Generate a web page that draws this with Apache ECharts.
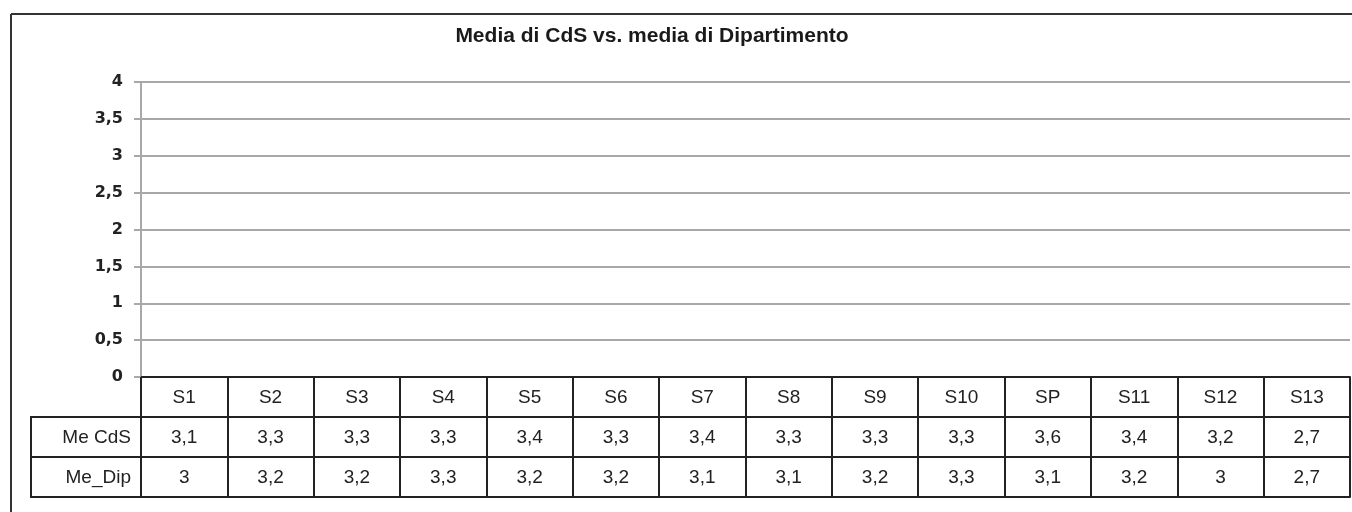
<!DOCTYPE html>
<html>
    <head>
        <meta charset="utf-8">
        <title>chart</title>
        <style media="screen">
            * {
                margin: 0px;
                padding: 0px;
            }
            html, body {
                width: 100%;
                height: 100%;
                background: #fff;
            }
            #main {
                width: 1352px;
                height: 512px;
            }
        </style>
    </head>
    <body>
        <div id="main"></div>
        <script src="https://cdn.jsdelivr.net/npm/echarts@6/dist/echarts.min.js"></script>
        <script type="text/javascript">
        var titleText = 'Media di CdS vs. media di Dipartimento';
        var categories = ['S1', 'S2', 'S3', 'S4', 'S5', 'S6', 'S7', 'S8', 'S9', 'S10', 'SP', 'S11', 'S12', 'S13'];
        var rowNames = ['Me CdS', 'Me_Dip'];
        var meCdS = [3.1, 3.3, 3.3, 3.3, 3.4, 3.3, 3.4, 3.3, 3.3, 3.3, 3.6, 3.4, 3.2, 2.7];
        var meDip = [3, 3.2, 3.2, 3.3, 3.2, 3.2, 3.1, 3.1, 3.2, 3.3, 3.1, 3.2, 3, 2.7];
        var yMin = 0, yMax = 4, yStep = 0.5;

        var myChart = echarts.init(document.getElementById('main'));

        function comma(v) {
            return String(v).replace('.', ',');
        }

        var tableFont = '"Liberation Sans", Arial, sans-serif';
        var black = '#222';
        var rowH = 40;

        // one x axis per table row, stacked below the plot with offset
        function tableAxis(offset, labels, showTicks) {
            return {
                type: 'category',
                gridIndex: 0,
                position: 'bottom',
                offset: offset,
                data: categories,
                boundaryGap: true,
                axisLine: { show: true, lineStyle: { color: black, width: 2 } },
                axisTick: {
                    show: showTicks,
                    interval: 0,
                    length: rowH,
                    lineStyle: { color: black, width: 2 }
                },
                axisLabel: {
                    show: !!labels,
                    interval: 0,
                    margin: rowH / 2 + 1,
                    verticalAlign: 'middle',
                    fontFamily: tableFont,
                    fontSize: 19,
                    color: black,
                    formatter: function (v, i) {
                        return labels ? labels[i] : '';
                    }
                },
                splitLine: { show: false }
            };
        }

        var option = {
            backgroundColor: '#fff',
            animation: false,
            grid: {
                left: 141,
                right: 2,
                top: 82,
                bottom: 135,
                containLabel: false,
                outerBoundsMode: 'none'
            },
            xAxis: [
                tableAxis(0, categories, true),
                tableAxis(rowH, meCdS.map(comma), true),
                tableAxis(rowH * 2, meDip.map(comma), true),
                tableAxis(rowH * 3, null, false)
            ],
            yAxis: {
                type: 'value',
                min: yMin,
                max: yMax,
                interval: yStep,
                axisLine: { show: true, lineStyle: { color: '#a8a8a8', width: 2 } },
                axisTick: { show: true, length: 7, lineStyle: { color: '#a8a8a8', width: 2 } },
                axisLabel: {
                    margin: 18,
                    fontFamily: 'DejaVu Sans',
                    fontWeight: 'bold',
                    fontSize: 16,
                    color: black,
                    formatter: comma
                },
                splitLine: { show: true, lineStyle: { color: '#a8a8a8', width: 2 } }
            },
            series: [],
            graphic: [
                // chart frame (top and left edges visible)
                { type: 'line', shape: { x1: 11, y1: 14, x2: 1352, y2: 14 }, style: { stroke: '#333', lineWidth: 2 } },
                { type: 'line', shape: { x1: 11, y1: 14, x2: 11, y2: 512 }, style: { stroke: '#333', lineWidth: 2 } },
                {
                    type: 'text', x: 652, y: 36,
                    style: {
                        text: titleText, align: 'center', verticalAlign: 'middle',
                        font: 'bold 21px "Liberation Sans", Arial, sans-serif', fill: '#1a1a1a'
                    }
                },
                // row header column of the data table
                { type: 'line', shape: { x1: 31, y1: 417, x2: 142, y2: 417 }, style: { stroke: black, lineWidth: 2 } },
                { type: 'line', shape: { x1: 31, y1: 457, x2: 142, y2: 457 }, style: { stroke: black, lineWidth: 2 } },
                { type: 'line', shape: { x1: 31, y1: 497, x2: 142, y2: 497 }, style: { stroke: black, lineWidth: 2 } },
                { type: 'line', shape: { x1: 31, y1: 416, x2: 31, y2: 498 }, style: { stroke: black, lineWidth: 2 } },
                {
                    type: 'text', x: 131, y: 438,
                    style: { text: rowNames[0], align: 'right', verticalAlign: 'middle', font: '19px "Liberation Sans", Arial, sans-serif', fill: black }
                },
                {
                    type: 'text', x: 131, y: 478,
                    style: { text: rowNames[1], align: 'right', verticalAlign: 'middle', font: '19px "Liberation Sans", Arial, sans-serif', fill: black }
                }
            ]
        };

        myChart.setOption(option);
        </script>
    </body>
</html>
